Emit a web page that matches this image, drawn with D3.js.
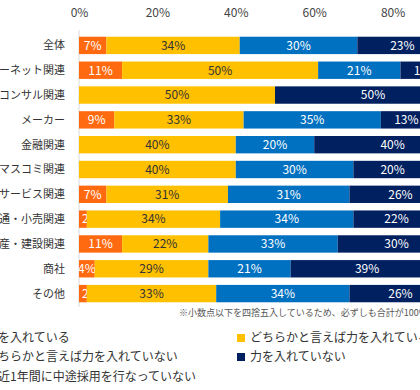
<!DOCTYPE html>
<html>
<head>
<meta charset="utf-8">
<script src="https://cdn.jsdelivr.net/npm/d3@7"></script>
<style>
body { margin: 0; background: #fff; overflow: hidden; }
text { font-family: "Noto Sans CJK JP", "Noto Sans", sans-serif; }
</style>
</head>
<body>
<script>
// data
var categories = ["全体", "インターネット関連", "コンサル関連", "メーカー", "金融関連", "マスコミ関連",
                  "サービス関連", "流通・小売関連", "不動産・建設関連", "商社", "その他"];
var seriesNames = ["力を入れている", "どちらかと言えば力を入れている", "どちらかと言えば力を入れていない",
                   "力を入れていない", "直近1年間に中途採用を行なっていない"];
var strong   = [7, 11, 0, 9, 0, 0, 7, 2, 11, 4, 2];
var ratherYes = [34, 50, 50, 33, 40, 40, 31, 34, 22, 29, 33];
var ratherNo = [30, 21, 0, 35, 20, 30, 31, 34, 33, 21, 34];
var notAtAll = [23, 13, 50, 13, 40, 20, 26, 22, 30, 39, 26];
var noHire   = [6, 5, 0, 10, 0, 10, 5, 8, 4, 7, 5];
var ticks = [0, 20, 40, 60, 80, 100];
var colors = ["#FF6A10", "#FFC000", "#0070C0", "#002060", "#A6A6A6"];
var labelColors = ["#fff", "#333", "#fff", "#fff", "#fff"];

var svg = d3.select("body").append("svg").attr("width", 420).attr("height", 390);

var x = d3.scaleLinear().domain([0, 100]).range([79, 471]);
var y = d3.scaleBand().domain(categories).range([33, 306]).paddingInner(0.3).paddingOuter(0.15);

var table = categories.map(function(c, i) {
  return { cat: c, s0: strong[i], s1: ratherYes[i], s2: ratherNo[i], s3: notAtAll[i], s4: noHire[i] };
});
var stack = d3.stack().keys(["s0", "s1", "s2", "s3", "s4"])(table);

// top axis labels
svg.append("g").attr("transform", "translate(0,20)")
  .call(d3.axisTop(x).tickValues(ticks).tickFormat(function(d) { return d + "%"; }).tickSize(0))
  .call(function(g) { g.select(".domain").remove(); })
  .selectAll("text").attr("font-size", 12).attr("fill", "#444")
  .style("font-family", "\"Noto Sans CJK JP\", sans-serif");

// vertical axis line
svg.append("line").attr("x1", x(0)).attr("x2", x(0)).attr("y1", 30).attr("y2", 307)
  .attr("stroke", "#d9d9d9");

var layers = svg.selectAll("g.layer").data(stack).enter().append("g").attr("class", "layer");

layers.selectAll("rect").data(function(d) { return d; }).enter().append("rect")
  .attr("x", function(d) { return x(d[0]); })
  .attr("y", function(d) { return y(d.data.cat); })
  .attr("width", function(d) { return x(d[1]) - x(d[0]); })
  .attr("height", y.bandwidth())
  .attr("fill", function(d, i, n) { return colors[stack.indexOf(d3.select(n[i].parentNode).datum())]; });

// narrow segments: label starts just inside the segment instead of centred
function narrow(d) { return x(d[1]) - x(d[0]) < 14; }

layers.each(function(layer, li) {
  d3.select(this).selectAll("text").data(layer.filter(function(d) { return d[1] - d[0] > 0; }))
    .enter().append("text")
    .attr("x", function(d) { return narrow(d) ? x(d[0]) + 3 : (x(d[0]) + x(d[1])) / 2; })
    .attr("y", function(d) { return y(d.data.cat) + y.bandwidth() / 2; })
    .attr("dy", "0.36em")
    .attr("text-anchor", function(d) { return narrow(d) ? "start" : "middle"; })
    .attr("font-size", 12)
    .attr("fill", labelColors[li])
    .text(function(d) { return (d[1] - d[0]) + "%"; });
});

// category labels
svg.selectAll("text.cat").data(categories).enter().append("text").attr("class", "cat")
  .attr("x", 65)
  .attr("y", function(d) { return y(d) + y.bandwidth() / 2; })
  .attr("dy", "0.36em")
  .attr("text-anchor", "end")
  .attr("font-size", 11)
  .attr("fill", "#333")
  .text(function(d) { return d; });

// note
svg.append("text").attr("x", 179).attr("y", 316).attr("font-size", 9).attr("fill", "#555")
  .text("※小数点以下を四捨五入しているため、必ずしも合計が100%にならない");

// legend: left column 0,2,4 ; right column 1,3
var legendPos = [[-27, 338], [237, 338], [-27, 357], [237, 357], [-27, 377]];
var legend = svg.selectAll("g.leg").data(seriesNames).enter().append("g").attr("class", "leg")
  .attr("transform", function(d, i) { return "translate(" + legendPos[i][0] + "," + legendPos[i][1] + ")"; });
legend.append("rect").attr("x", 0).attr("y", -4).attr("width", 8).attr("height", 8)
  .attr("fill", function(d, i) { return colors[i]; });
legend.append("text").attr("x", 13).attr("y", 0).attr("dy", "0.36em")
  .attr("font-size", 12).attr("fill", "#333")
  .text(function(d) { return d; });
</script>
</body>
</html>
